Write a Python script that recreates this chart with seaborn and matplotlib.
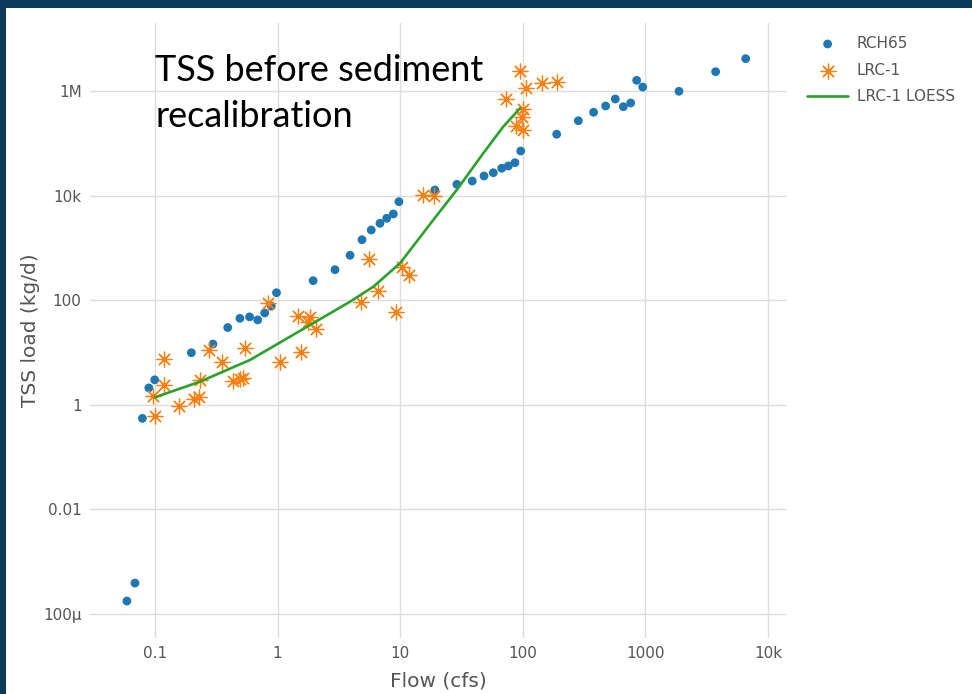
import matplotlib
matplotlib.use("Agg")
import matplotlib.pyplot as plt
import matplotlib.patches as mpatches
import seaborn as sns
import pandas as pd

# ---------------- data ----------------
rch65_flow = [0.059, 0.0687, 0.079, 0.089, 0.0995, 0.198, 0.297, 0.392, 0.493, 0.591,
              0.689, 0.785, 0.889, 0.98, 1.95, 2.94, 3.90, 4.88, 5.81, 6.84,
              7.76, 8.79, 9.77, 19.2, 29.0, 38.7, 48.3, 57.5, 67.3, 76.2,
              86.3, 96.2, 189, 284, 378, 474, 568, 661, 759, 849,
              951, 1880, 3740, 6580]
rch65_load = [1.77e-4, 3.9e-4, 0.55, 2.1, 3.0, 9.9, 14.5, 30, 45, 48,
              42, 57, 77, 139, 236, 383, 722, 1435, 2200, 2950,
              3680, 4450, 7640, 12800, 16400, 19000, 23700, 27400, 33300, 36800,
              42600, 71300, 149000, 270000, 392000, 517000, 703000, 501000, 590000, 1.60e6,
              1.19e6, 987000, 2.34e6, 4.15e6]

lrc1_flow = [0.1, 0.097, 0.119, 0.119, 0.158, 0.209, 0.230, 0.233, 0.275, 0.350,
             0.436, 0.493, 0.525, 0.542, 0.84, 1.05, 1.47, 1.84, 1.78, 2.04,
             1.55, 4.79, 5.6, 6.65, 9.25, 10.4, 11.9, 15.3, 19.0, 73.6,
             94.9, 106, 143, 189, 101, 98, 88.1, 99.6]
lrc1_load = [0.61, 1.49, 2.39, 7.4, 0.96, 1.29, 1.43, 2.98, 11.2, 6.7,
             2.85, 3.11, 3.30, 12.4, 88, 6.5, 48.8, 47.7, 38.8, 28.1,
             10.1, 94, 621, 147, 58.2, 437, 301, 10300, 9950, 703000,
             2.38e6, 1.13e6, 1.42e6, 1.47e6, 459000, 318000, 211000, 176000]

loess_flow = [0.1, 0.233, 0.596, 0.867, 1.84, 3.90, 6.04, 9.96, 18.6, 28.9, 47.6, 69.3, 94.9]
loess_load = [1.39, 2.77, 7.2, 12.0, 33.6, 93.6, 181, 508, 3410, 12800, 64400, 208000, 467000]

x_ticks = [0.1, 1, 10, 100, 1000, 10000]
x_tick_labels = ["0.1", "1", "10", "100", "1000", "10k"]
y_ticks = [1e-4, 1e-2, 1, 100, 1e4, 1e6]
y_tick_labels = ["100\u03bc", "0.01", "1", "100", "10k", "1M"]

series_names = ["RCH65", "LRC-1", "LRC-1 LOESS"]
title_text = "TSS before sediment\nrecalibration"

df_rch = pd.DataFrame({"flow": rch65_flow, "load": rch65_load})
df_lrc = pd.DataFrame({"flow": lrc1_flow, "load": lrc1_load})
df_loess = pd.DataFrame({"flow": loess_flow, "load": loess_load})

# ---------------- figure ----------------
sns.set_theme(style="white")
plt.rcParams["font.family"] = ["DejaVu Sans"]

W, H = 972, 694
fig = plt.figure(figsize=(W / 100, H / 100), dpi=100)
fig.patch.set_facecolor("#0c3a5b")
fig.patches.append(mpatches.Rectangle((6 / W, 0), 1, (H - 8) / H, transform=fig.transFigure,
                                      facecolor="white", edgecolor="none", zorder=-10))

ax = fig.add_axes([90 / W, 1 - 638 / H, (786 - 90) / W, (638 - 23) / H])
ax.set_zorder(1)
ax.set_facecolor("white")
ax.set_xscale("log")
ax.set_yscale("log")

sns.scatterplot(data=df_rch, x="flow", y="load", ax=ax, color="#1f77b4", s=40,
                linewidth=0, edgecolor="none", label=series_names[0], zorder=3)
sns.scatterplot(data=df_lrc, x="flow", y="load", ax=ax, color="#ff7f0e", s=115,
                marker=(8, 2, 0), linewidth=0.9, label=series_names[1], zorder=4)
sns.lineplot(data=df_loess, x="flow", y="load", ax=ax, color="#2ca02c", linewidth=1.9,
             label=series_names[2], zorder=5, sort=False)

ax.set_xlim(10 ** -1.53, 10 ** 4.147)
ax.set_ylim(10 ** -4.459, 10 ** 7.30)

ax.set_xticks(x_ticks, labels=x_tick_labels)
ax.set_yticks(y_ticks, labels=y_tick_labels)
ax.minorticks_off()
ax.grid(True, color="#dcdcdc", linewidth=1.0, zorder=0)
ax.set_axisbelow(True)
for sp in ax.spines.values():
    sp.set_visible(False)
ax.tick_params(axis="x", length=0, pad=6, labelsize=11, labelcolor="#555555")
ax.tick_params(axis="y", length=5, width=1, color="#dcdcdc", pad=1, labelsize=11,
               labelcolor="#555555")

ax.set_xlabel("Flow (cfs)", fontsize=14.5, color="#555555", labelpad=7)
ax.set_ylabel("TSS load (kg/d)", fontsize=14.5, color="#555555", labelpad=2)

leg = ax.legend(loc="upper left", bbox_to_anchor=(807 / W, 1 - 36 / H),
                bbox_transform=fig.transFigure, frameon=False, fontsize=11,
                handlelength=2.7, handletextpad=0.55, labelspacing=0.76,
                borderpad=0, borderaxespad=0)
for t in leg.get_texts():
    t.set_color("#555555")

fig.text(155 / W, 1 - 93.5 / H, title_text, fontsize=26, family=["Lato", "DejaVu Sans"],
         color="black", va="center", ha="left", linespacing=1.5, zorder=10)

fig.savefig("out.png", dpi=100, facecolor=fig.get_facecolor())
